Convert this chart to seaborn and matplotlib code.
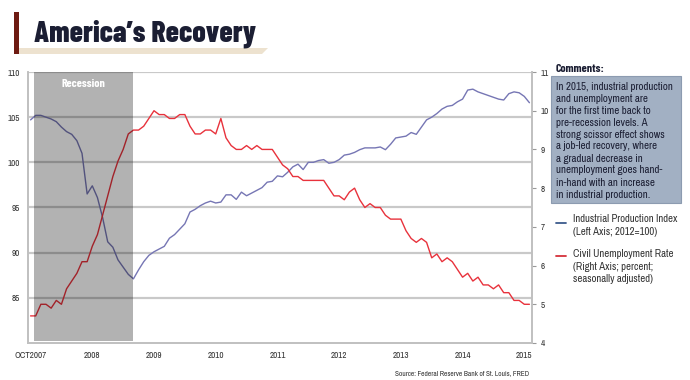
import numpy as np
import pandas as pd
import matplotlib
matplotlib.use("Agg")
import matplotlib.pyplot as plt
import seaborn as sns
from matplotlib.patches import Polygon, Rectangle

# monthly data, Oct 2007 - Nov 2015
industrial = [104.7, 105.2, 105.2, 105.0, 104.8, 104.5, 103.9, 103.4, 103.1, 102.4,
              101.0, 96.5, 97.4, 96.1, 93.9, 91.2, 90.6, 89.2, 88.4, 87.6,
              87.1, 88.1, 89.0, 89.7, 90.1, 90.4, 90.7, 91.6, 92.0, 92.6,
              93.2, 94.5, 94.8, 95.2, 95.5, 95.7, 95.5, 95.6, 96.4, 96.4,
              95.9, 96.7, 96.3, 96.6, 96.9, 97.2, 97.8, 97.9, 98.5, 98.4,
              98.9, 99.5, 99.8, 99.2, 100.0, 100.0, 100.2, 100.3, 99.9, 100.0,
              100.3, 100.8, 100.9, 101.1, 101.4, 101.6, 101.6, 101.6, 101.7, 101.4,
              102.0, 102.7, 102.8, 102.9, 103.3, 103.1, 103.9, 104.7, 105.0, 105.4,
              105.9, 106.2, 106.3, 106.7, 107.0, 108.0, 108.1, 107.8, 107.6, 107.4,
              107.2, 107.0, 106.9, 107.6, 107.8, 107.7, 107.3, 106.6]

unemployment = [4.7, 4.7, 5.0,
                5.0, 4.9, 5.1, 5.0, 5.4, 5.6, 5.8, 6.1, 6.1, 6.5, 6.8, 7.3,
                7.8, 8.3, 8.7, 9.0, 9.4, 9.5, 9.5, 9.6, 9.8, 10.0, 9.9, 9.9,
                9.8, 9.8, 9.9, 9.9, 9.6, 9.4, 9.4, 9.5, 9.5, 9.4, 9.8, 9.3,
                9.1, 9.0, 9.0, 9.1, 9.0, 9.1, 9.0, 9.0, 9.0, 8.8, 8.6, 8.5,
                8.3, 8.3, 8.2, 8.2, 8.2, 8.2, 8.2, 8.0, 7.8, 7.8, 7.7, 7.9,
                8.0, 7.7, 7.5, 7.6, 7.5, 7.5, 7.3, 7.2, 7.2, 7.2, 6.9, 6.7,
                6.6, 6.7, 6.6, 6.2, 6.3, 6.1, 6.2, 6.1, 5.9, 5.7, 5.8, 5.6,
                5.7, 5.5, 5.5, 5.4, 5.5, 5.3, 5.3, 5.1, 5.1, 5.0, 5.0]

year_labels = ["OCT2007", "2008", "2009", "2010", "2011", "2012", "2013", "2014", "2015"]
left_ticks = [85, 90, 95, 100, 105, 110]
right_ticks = [4, 5, 6, 7, 8, 9, 10, 11]
recession = (0.7, 19.9)

comment_lines = ["In 2015, industrial production", "and unemployment are",
                 "for the first time back to", "pre-recession levels. A",
                 "strong scissor effect shows", "a job-led recovery, where",
                 "a gradual decrease in", "unemployment goes hand-",
                 "in-hand with an increase", "in industrial production."]
legend_ip = ["Industrial Production Index", "(Left Axis; 2012=100)"]
legend_ur = ["Civil Unemployment Rate", "(Right Axis; percent;", "seasonally adjusted)"]

df = pd.DataFrame({"month": np.arange(len(industrial)),
                   "industrial": industrial,
                   "unemployment": unemployment})

sns.set_style("white")
body = ["Archivo Narrow", "DejaVu Sans"]
heavy = ["Barlow Condensed", "DejaVu Sans"]
plt.rcParams["font.family"] = body

W, H = 690, 380
fig = plt.figure(figsize=(6.9, 3.8), dpi=100)

def fx(px):
    return px / W

def fy(py):
    return 1 - py / H

ax = fig.add_axes([fx(28), fy(343), fx(532) - fx(28), fy(72) - fy(343)])
ax2 = ax.twinx()

grid_col = "#c9c9c9"
tick_col = "#333333"
navy = "#1b1e33"

sns.lineplot(data=df, x="month", y="industrial", ax=ax, color="#7676b4", lw=1.0)
sns.lineplot(data=df, x="month", y="unemployment", ax=ax2, color="#e8323c", lw=1.0)

ax.set_xlim(-0.5, len(industrial) - 0.5)
ax.set_ylim(80, 110)
ax2.set_ylim(4, 11)
ax.set_yticks(left_ticks)
ax2.set_yticks(right_ticks)
ax.set_xticks(np.arange(0, 97, 12))
ax.set_xticklabels(year_labels)
ax.set_xticks(np.arange(6, 97, 12), minor=True)
for a in (ax, ax2):
    a.set_xlabel("")
    a.set_ylabel("")
ax.tick_params(axis="x", which="both", length=3, width=0.8, color="#999999",
               labelsize=6.5, labelcolor=tick_col, pad=3)
ax.tick_params(axis="y", length=0, labelsize=6.5, labelcolor=tick_col, pad=6)
ax2.tick_params(axis="y", length=3, width=0.8, color="#999999",
                labelsize=6.5, labelcolor=tick_col, pad=3)

for t in left_ticks:
    ax.axhline(t, color=grid_col, lw=1.6, zorder=0)

for a in (ax, ax2):
    a.spines["top"].set_visible(False)
    for s in ("left", "right", "bottom"):
        a.spines[s].set_color("#c0c0c0")
        a.spines[s].set_linewidth(1.2)

# recession shading drawn over the lines
ax2.axvspan(*recession, ymin=0.006, ymax=1.0, color="black", alpha=0.3, lw=0, zorder=5)
ax2.text(np.mean(recession), 10.7, "Recession", color="white", fontsize=8.5,
         fontweight="bold", family=heavy, ha="center", va="center", zorder=6)

# title banner
fig.patches.append(Polygon([(fx(18), fy(48)), (fx(268), fy(48)), (fx(262), fy(54)),
                            (fx(14), fy(54))], closed=True, transform=fig.transFigure,
                           facecolor="#ede2cf", edgecolor="none"))
fig.patches.append(Rectangle((fx(14), fy(54)), fx(5), fy(12) - fy(54),
                             transform=fig.transFigure, facecolor="#6e1b12",
                             edgecolor="none"))
fig.text(fx(34), fy(41), "America\u2019s Recovery", fontsize=21.5, fontweight=800,
         family=heavy, color=navy, ha="left", va="baseline")

# comments box
fig.text(fx(556), fy(72), "Comments:", fontsize=8.5, fontweight="bold", family=heavy,
         color=navy, ha="left", va="baseline")
fig.patches.append(Rectangle((fx(551), fy(203)), fx(130), fy(76) - fy(203),
                             transform=fig.transFigure, facecolor="#a2b0c3",
                             edgecolor="#8c9bb0", lw=0.8))
for i, line in enumerate(comment_lines):
    fig.text(fx(556), fy(89.5 + 12 * i), line, fontsize=7.9, color=navy,
             ha="left", va="baseline")

# legend
fig.lines.append(plt.Line2D([fx(556), fx(566)], [fy(223), fy(223)],
                            transform=fig.transFigure, color="#3c5a8c", lw=1.3))
for i, line in enumerate(legend_ip):
    fig.text(fx(573), fy(222 + 13 * i), line, fontsize=7.7, color="#333333",
             ha="left", va="baseline")
fig.lines.append(plt.Line2D([fx(556), fx(566)], [fy(256), fy(256)],
                            transform=fig.transFigure, color="#d4303a", lw=1.3))
for i, line in enumerate(legend_ur):
    fig.text(fx(573), fy(257 + 12.5 * i), line, fontsize=7.7, color="#333333",
             ha="left", va="baseline")

fig.text(fx(529), fy(375), "Source: Federal Reserve Bank of St. Louis, FRED",
         fontsize=5.3, color="#333333", ha="right", va="baseline")

fig.savefig("out.png", dpi=100)
